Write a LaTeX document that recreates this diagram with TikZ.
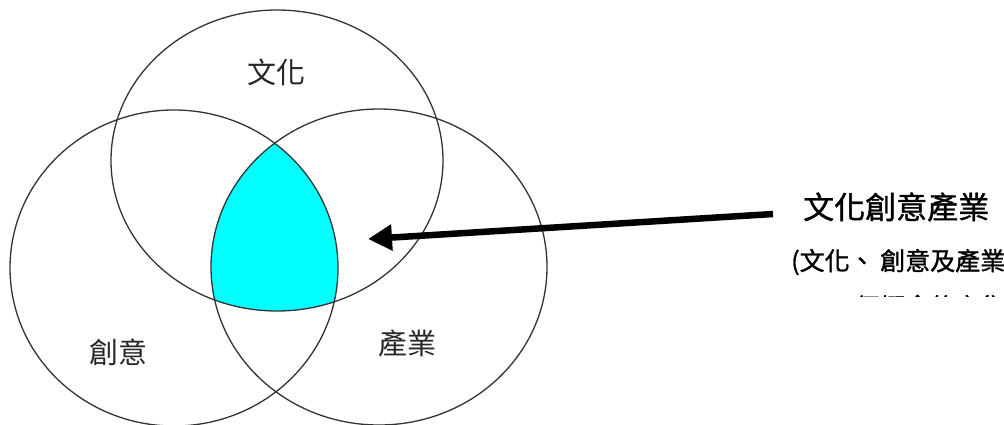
\documentclass[tikz,border=0pt]{standalone}
\usepackage{fontspec}
\newfontfamily\cjk{Noto Sans CJK TC}
\newfontfamily\cjkb[AutoFakeBold=1.2]{Noto Sans CJK TC}
\usetikzlibrary{arrows.meta}
\definecolor{aqua}{RGB}{0,255,255}
\tikzset{
  venn/.style={draw=black!80, line width=1.3pt},
  lbl/.style={font=\cjk\fontsize{29}{32}\selectfont, inner sep=0pt, text=black!85},
  title/.style={font=\cjkb\fontsize{31}{34}\selectfont\bfseries, inner sep=0pt, anchor=west},
  sub/.style={font=\cjkb\fontsize{25}{28}\selectfont\bfseries, inner sep=0pt, anchor=west},
  bigarrow/.style={line width=6.5pt, -{Triangle[length=24pt,width=25pt]}}
}
\begin{document}
\begin{tikzpicture}[x=1pt,y=-1pt]
\clip (0,0) rectangle (1004,425);
\fill[white] (0,0) rectangle (1004,425);
% aqua triple intersection
\begin{scope}
  \clip (277,160.5) ellipse [x radius=166, y radius=150.5];
  \clip (174,268) ellipse [x radius=164, y radius=158];
  \fill[aqua] (379,267) ellipse [x radius=168, y radius=158];
\end{scope}
% circles
\draw[venn] (277,160.5) ellipse [x radius=166, y radius=150.5];
\draw[venn] (174,268) ellipse [x radius=164, y radius=158];
\draw[venn] (379,267) ellipse [x radius=168, y radius=158];
% labels
\node[lbl] (wh) at (276,72) {文化};
\node[lbl] (cy) at (118,352) {創意};
\node[lbl] (cuy) at (407,343) {產業};
% right text
\node[title] (t1) at (803,207) {文化創意產業};
\node[sub] (t2) at (791,262) {(文化、 創意及產業};
\begin{scope}
  \clip (0,0) rectangle (1004,296.5);
  \node[sub] (t3) at (830,308) {三個概念的交集)};
\end{scope}
% arrow
\coordinate (tail) at (773,214);
\coordinate (tip) at (368,239);
\draw[bigarrow] (tail) -- (tip);
\end{tikzpicture}
\end{document}
